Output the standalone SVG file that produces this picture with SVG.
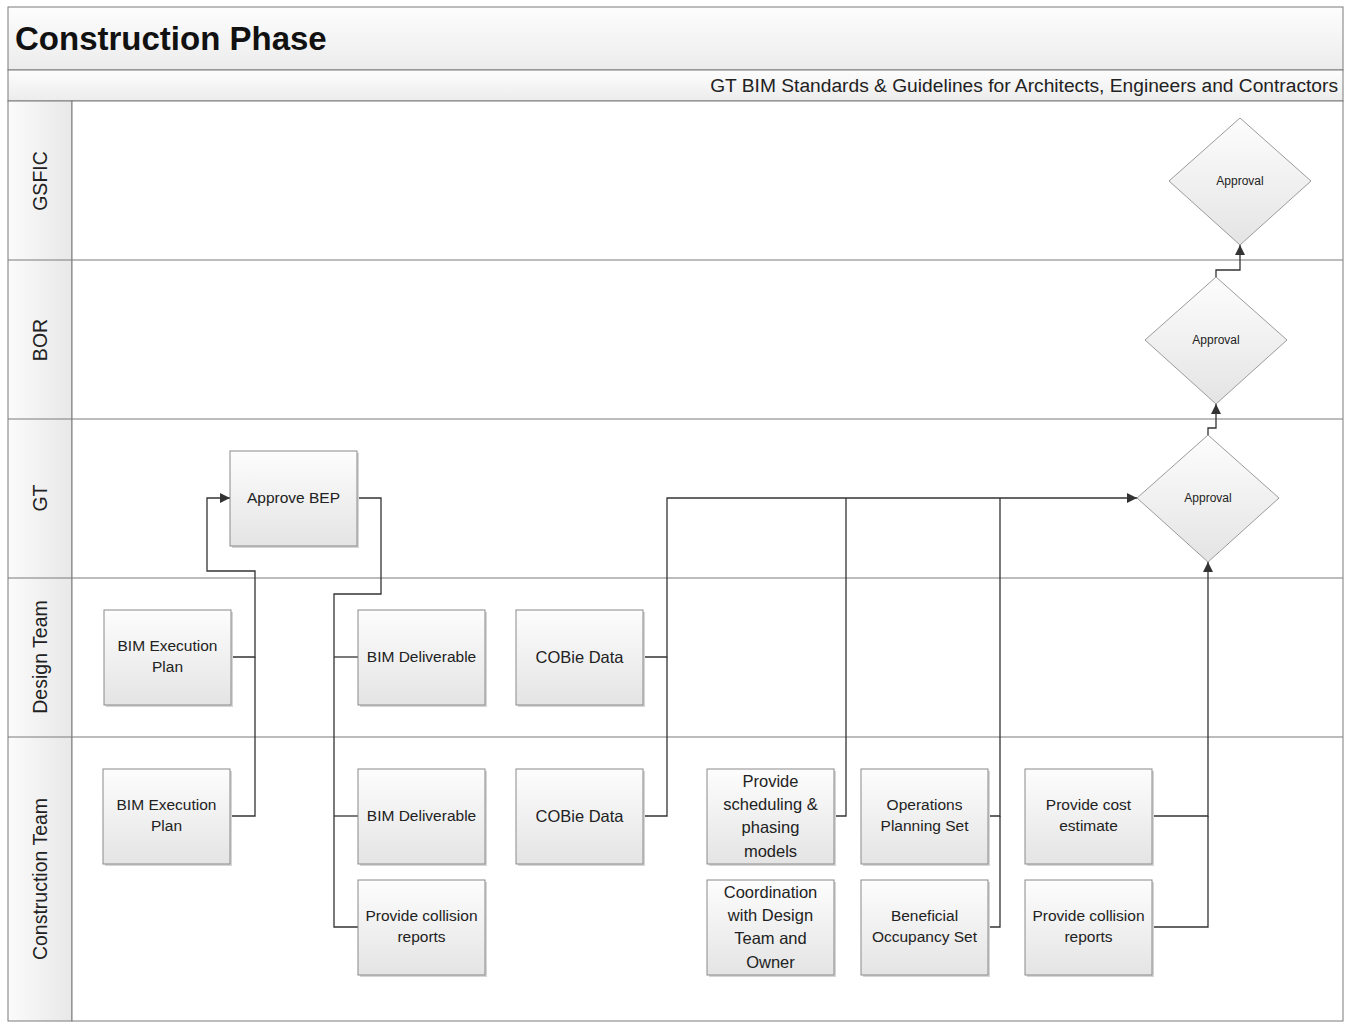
<svg xmlns="http://www.w3.org/2000/svg" width="1345" height="1022" viewBox="0 0 1345 1022">
<defs>
<linearGradient id="gBox" x1="0" y1="0" x2="0" y2="1"><stop offset="0" stop-color="#fdfdfd"/><stop offset="1" stop-color="#e4e4e4"/></linearGradient>
<linearGradient id="gBand" x1="0" y1="0" x2="0" y2="1"><stop offset="0" stop-color="#fdfdfd"/><stop offset="1" stop-color="#ececec"/></linearGradient>
<linearGradient id="gLane" x1="0" y1="0" x2="1" y2="0"><stop offset="0" stop-color="#fbfbfb"/><stop offset="1" stop-color="#e8e8e8"/></linearGradient>
<marker id="arr" viewBox="0 0 10 10" refX="10" refY="5" markerWidth="10" markerHeight="10" markerUnits="userSpaceOnUse" orient="auto"><path d="M0,0 L10,5 L0,10 z" fill="#333"/></marker>
<style>
.box{fill:url(#gBox);stroke:#8a8a8a;stroke-width:1}
.dia{fill:url(#gBox);stroke:#9a9a9a;stroke-width:1}
.sh{fill:#d6d6d6}
.t{font-family:"Liberation Sans",Arial,sans-serif;font-size:15.5px;fill:#222;text-anchor:middle}
.tb{font-family:"Liberation Sans",Arial,sans-serif;font-size:16.5px;fill:#222;text-anchor:middle}
.td{font-family:"Liberation Sans",Arial,sans-serif;font-size:12px;fill:#222;text-anchor:middle}
.lane{font-family:"Liberation Sans",Arial,sans-serif;font-size:19.5px;fill:#222;text-anchor:middle}
.c{fill:none;stroke:#333;stroke-width:1.3}
.sep{stroke:#7a7a7a;stroke-width:1}
</style>
</defs>
<rect x="0" y="0" width="1345" height="1022" fill="#fff"/>
<g id="frame">
<rect x="8" y="7" width="1335" height="63" fill="url(#gBand)" stroke="#7a7a7a"/>
<rect x="8" y="70" width="1335" height="31" fill="url(#gBand)" stroke="#7a7a7a"/>
<rect x="8" y="101" width="64" height="920" fill="url(#gLane)" stroke="#7a7a7a"/>
<rect x="72" y="101" width="1271" height="920" fill="#fff" stroke="#7a7a7a"/>
<line class="sep" x1="8" y1="260" x2="1343" y2="260"/>
<line class="sep" x1="8" y1="419" x2="1343" y2="419"/>
<line class="sep" x1="8" y1="578" x2="1343" y2="578"/>
<line class="sep" x1="8" y1="737" x2="1343" y2="737"/>
<text x="15" y="50" font-family="Liberation Sans,Arial,sans-serif" font-size="33" font-weight="bold" fill="#111">Construction Phase</text>
<text x="1338" y="92" font-family="Liberation Sans,Arial,sans-serif" font-size="19.2" fill="#222" text-anchor="end">GT BIM Standards &amp; Guidelines for Architects, Engineers and Contractors</text>
<text class="lane" transform="translate(47,181) rotate(-90)">GSFIC</text>
<text class="lane" transform="translate(47,340) rotate(-90)">BOR</text>
<text class="lane" transform="translate(47,498) rotate(-90)">GT</text>
<text class="lane" transform="translate(47,657) rotate(-90)">Design Team</text>
<text class="lane" transform="translate(47,879) rotate(-90)">Construction Team</text>
</g>
<g id="connectors">
<polyline class="c" points="231,657 255,657 255,571 207,571 207,498 230,498" marker-end="url(#arr)"/>
<polyline class="c" points="230,816 255,816 255,657"/>
<polyline class="c" points="357,498 381,498 381,594 334,594 334,927 358,927"/>
<line class="c" x1="334" y1="657" x2="358" y2="657" stroke-width="0.8"/>
<line class="c" x1="334" y1="816" x2="358" y2="816" stroke-width="0.8"/>
<polyline class="c" points="643,657 667,657 667,498 1137,498" marker-end="url(#arr)"/>
<polyline class="c" points="643,816 667,816 667,657"/>
<polyline class="c" points="834,816 846,816 846,498"/>
<polyline class="c" points="988,816 1000,816 1000,498"/>
<polyline class="c" points="988,927 1000,927 1000,816"/>
<polyline class="c" points="1152,816 1208,816 1208,562" marker-end="url(#arr)"/>
<polyline class="c" points="1152,927 1208,927 1208,816"/>
<polyline class="c" points="1208,435 1208,428 1216,428 1216,404" marker-end="url(#arr)"/>
<polyline class="c" points="1216,277 1216,270 1240,270 1240,245" marker-end="url(#arr)"/>
</g>
<g id="approve-bep"><rect class="sh" x="232" y="453" width="127" height="95"/><rect class="box" x="230" y="451" width="127" height="95"/><text class="t" x="293.5" y="503">Approve BEP</text></g>
<g id="design-bep"><rect class="sh" x="106" y="612" width="127" height="95"/><rect class="box" x="104" y="610" width="127" height="95"/><text class="t" x="167.5" y="651">BIM Execution</text><text class="t" x="167.5" y="672">Plan</text></g>
<g id="constr-bep"><rect class="sh" x="105" y="771" width="127" height="95"/><rect class="box" x="103" y="769" width="127" height="95"/><text class="t" x="166.5" y="810">BIM Execution</text><text class="t" x="166.5" y="831">Plan</text></g>
<g id="design-bim-deliv"><rect class="sh" x="360" y="612" width="127" height="95"/><rect class="box" x="358" y="610" width="127" height="95"/><text class="t" x="421.5" y="662">BIM Deliverable</text></g>
<g id="constr-bim-deliv"><rect class="sh" x="360" y="771" width="127" height="95"/><rect class="box" x="358" y="769" width="127" height="95"/><text class="t" x="421.5" y="821">BIM Deliverable</text></g>
<g id="collision-1"><rect class="sh" x="360" y="882" width="127" height="95"/><rect class="box" x="358" y="880" width="127" height="95"/><text class="t" x="421.5" y="921">Provide collision</text><text class="t" x="421.5" y="942">reports</text></g>
<g id="design-cobie"><rect class="sh" x="518" y="612" width="127" height="95"/><rect class="box" x="516" y="610" width="127" height="95"/><text class="tb" x="579.5" y="663">COBie Data</text></g>
<g id="constr-cobie"><rect class="sh" x="518" y="771" width="127" height="95"/><rect class="box" x="516" y="769" width="127" height="95"/><text class="tb" x="579.5" y="822">COBie Data</text></g>
<g id="scheduling"><rect class="sh" x="709" y="771" width="127" height="95"/><rect class="box" x="707" y="769" width="127" height="95"/><text class="tb" x="770.5" y="787">Provide</text><text class="tb" x="770.5" y="810">scheduling &amp;</text><text class="tb" x="770.5" y="833">phasing</text><text class="tb" x="770.5" y="857">models</text></g>
<g id="coordination"><rect class="sh" x="709" y="882" width="127" height="95"/><rect class="box" x="707" y="880" width="127" height="95"/><text class="tb" x="770.5" y="898">Coordination</text><text class="tb" x="770.5" y="921">with Design</text><text class="tb" x="770.5" y="944">Team and</text><text class="tb" x="770.5" y="968">Owner</text></g>
<g id="ops-planning"><rect class="sh" x="863" y="771" width="127" height="95"/><rect class="box" x="861" y="769" width="127" height="95"/><text class="t" x="924.5" y="810">Operations</text><text class="t" x="924.5" y="831">Planning Set</text></g>
<g id="beneficial"><rect class="sh" x="863" y="882" width="127" height="95"/><rect class="box" x="861" y="880" width="127" height="95"/><text class="t" x="924.5" y="921">Beneficial</text><text class="t" x="924.5" y="942">Occupancy Set</text></g>
<g id="cost-estimate"><rect class="sh" x="1027" y="771" width="127" height="95"/><rect class="box" x="1025" y="769" width="127" height="95"/><text class="t" x="1088.5" y="810">Provide cost</text><text class="t" x="1088.5" y="831">estimate</text></g>
<g id="collision-2"><rect class="sh" x="1027" y="882" width="127" height="95"/><rect class="box" x="1025" y="880" width="127" height="95"/><text class="t" x="1088.5" y="921">Provide collision</text><text class="t" x="1088.5" y="942">reports</text></g>
<g id="approval-gsfic"><polygon class="dia" points="1240,118 1311,181 1240,245 1169,181"/><text class="td" x="1240" y="185">Approval</text></g>
<g id="approval-bor"><polygon class="dia" points="1216,277 1287,340 1216,404 1145,340"/><text class="td" x="1216" y="344">Approval</text></g>
<g id="approval-gt"><polygon class="dia" points="1208,435 1279,498 1208,562 1137,498"/><text class="td" x="1208" y="502">Approval</text></g>
</svg>
